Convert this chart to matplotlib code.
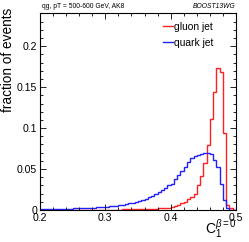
import numpy as np
import matplotlib
matplotlib.use('Agg')
import matplotlib.pyplot as plt
from matplotlib.ticker import MultipleLocator

plt.rcParams['font.family'] = ['Liberation Sans', 'DejaVu Sans']
plt.rcParams['mathtext.fontset'] = 'custom'
plt.rcParams['mathtext.rm'] = 'Liberation Sans'
plt.rcParams['mathtext.it'] = 'Liberation Sans:italic'

# histogram binning: 60 bins between 0.2 and 0.5
x_lo, x_hi, n_bins = 0.2, 0.5, 60

# fraction of events per bin
gluon = [0.0, 0.0, 0.0, 0.0, 0.0, 0.0, 0.0, 0.0, 0.0, 0.0,
         0.0, 0.0, 0.0, 0.0, 0.0, 0.0, 0.0, 0.0, 0.0, 0.0005,
         0.0005, 0.0005, 0.0005, 0.0005, 0.0005, 0.0008, 0.0008, 0.0008, 0.001, 0.001,
         0.001, 0.001, 0.001, 0.0012, 0.0013, 0.0015, 0.002, 0.002, 0.0025, 0.003,
         0.004, 0.005, 0.006, 0.008, 0.010, 0.013, 0.016, 0.020, 0.030, 0.041,
         0.057, 0.079, 0.111, 0.144, 0.173, 0.168, 0.094, 0.006, 0.003, 0.0]
quark = [0.001, 0.001, 0.001, 0.001, 0.0012, 0.0015, 0.0015, 0.0015, 0.0017, 0.0018,
         0.002, 0.002, 0.002, 0.0023, 0.0025, 0.003, 0.003, 0.0033, 0.0035, 0.004,
         0.004, 0.0045, 0.005, 0.0053, 0.006, 0.0065, 0.007, 0.008, 0.009, 0.010,
         0.011, 0.0125, 0.014, 0.0155, 0.017, 0.019, 0.022, 0.024, 0.027, 0.030,
         0.032, 0.038, 0.043, 0.048, 0.052, 0.058, 0.063, 0.066, 0.067, 0.068,
         0.069, 0.069, 0.068, 0.061, 0.052, 0.032, 0.012, 0.002, 0.0, 0.0]

xticks = [0.2, 0.3, 0.4, 0.5]
xticklabels = ['0.2', '0.3', '0.4', '0.5']
yticks = [0, 0.05, 0.1, 0.15, 0.2]
yticklabels = ['0', '0.05', '0.1', '0.15', '0.2']

edges = np.linspace(x_lo, x_hi, n_bins + 1)

fig = plt.figure(figsize=(2.49, 2.42), dpi=100)
ax = fig.add_axes([40/249, 1-210/242, 196/249, 197/242])

ax.stairs(gluon, edges, color='#ff2020', lw=1.0, label='gluon jet')
ax.stairs(quark, edges, color='#2020ff', lw=1.0, label='quark jet')

ax.set_xlim(x_lo, x_hi)
ax.set_ylim(0, 0.2405)
ax.set_xticks(xticks)
ax.set_xticklabels(xticklabels)
ax.set_yticks(yticks)
ax.set_yticklabels(yticklabels)
ax.xaxis.set_minor_locator(MultipleLocator(0.02))
ax.yaxis.set_minor_locator(MultipleLocator(0.01))
ax.tick_params(which='both', direction='in', top=True, right=True, labelsize=7.6, width=0.6)
ax.tick_params(which='major', length=4.5, pad=2)
ax.tick_params(which='minor', length=2.3)
for s in ax.spines.values():
    s.set_linewidth(0.8)

ax.legend(loc='upper left', bbox_to_anchor=(0.629, 0.955), frameon=False, fontsize=7.4,
          handlelength=0.9, handletextpad=0.15, labelspacing=0.55, borderpad=0, borderaxespad=0)

fig.text(8/249, 1-8/242, 'fraction of events', rotation=90, ha='center', va='top', fontsize=9.8)
fig.text(237/249, 1-241/242, r'C$_{1}^{\beta=0}$', ha='right', va='bottom', fontsize=10)
fig.text(42/249, 1-6/242, 'qg, pT = 500-600 GeV, AK8', ha='left', va='center', fontsize=4.9)
fig.text(236/249, 1-6/242, 'BOOST13WG', ha='right', va='center', fontsize=4.9, style='italic')

fig.savefig('out.png', dpi=100)
